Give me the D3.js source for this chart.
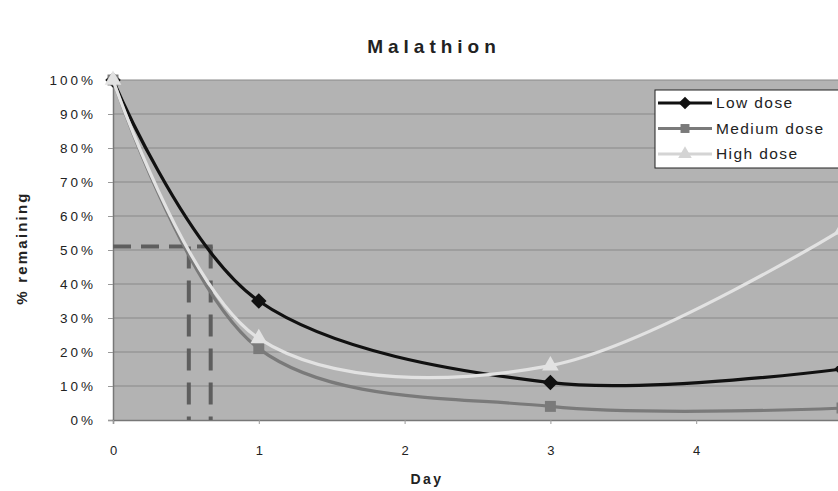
<!DOCTYPE html>
<html>
<head>
<meta charset="utf-8">
<script src="https://cdn.jsdelivr.net/npm/d3@7"></script>
<style>
  body { margin: 0; background: #fff; }
  svg text { font-family: "Liberation Sans", Arial, sans-serif; fill: #222; }
</style>
</head>
<body>
<svg width="838" height="491"></svg>
<script>
var days = [0, 1, 3, 5];
var lowDose = [100, 35, 11, 15];
var mediumDose = [100, 21, 4, 3.5];
var highDose = [100, 24, 16, 56];
var seriesNames = ['Low dose', 'Medium dose', 'High dose'];
var yTicks = [0, 10, 20, 30, 40, 50, 60, 70, 80, 90, 100];
var xTicks = [0, 1, 2, 3, 4, 5];
var halfLevel = 51;
var halfDays = [0.52, 0.67];

var svg = d3.select('svg');
var plotLeft = 113, plotTop = 80, plotBottom = 420, plotRight = 842;

var x = d3.scaleLinear().domain([0, 5]).range([plotLeft, plotRight]);
var y = d3.scaleLinear().domain([0, 100]).range([plotBottom, plotTop]);

// plot area
svg.append('rect')
  .attr('x', plotLeft).attr('y', plotTop)
  .attr('width', plotRight - plotLeft).attr('height', plotBottom - plotTop)
  .attr('fill', '#b3b3b3');

svg.append('g')
  .selectAll('line')
  .data(yTicks.slice(1))
  .enter()
  .append('line')
  .attr('x1', plotLeft).attr('x2', plotRight)
  .attr('y1', function(d) { return y(d); })
  .attr('y2', function(d) { return y(d); })
  .attr('stroke', '#8a8a8a')
  .attr('stroke-width', 1.2);

var yAxis = svg.append('g')
  .attr('transform', 'translate(' + plotLeft + ',0)')
  .call(d3.axisLeft(y).tickValues(yTicks).tickSize(5).tickPadding(12)
    .tickFormat(function(d) { return d + '%'; }));
yAxis.select('.domain').attr('stroke', '#777').attr('stroke-width', 1.5);
yAxis.selectAll('.tick line').attr('stroke', '#999');
yAxis.selectAll('text').style('font-size', '13.5px').style('letter-spacing', '3px').attr('fill', '#444');

var xAxis = svg.append('g')
  .attr('transform', 'translate(0,' + plotBottom + ')')
  .call(d3.axisBottom(x).tickValues(xTicks).tickSize(4).tickPadding(22)
    .tickFormat(d3.format('d')));
xAxis.select('.domain').attr('stroke', '#777').attr('stroke-width', 1.5);
xAxis.selectAll('.tick line').attr('stroke', '#999');
xAxis.selectAll('text').style('font-size', '13px').attr('fill', '#444');

// half-life guides
svg.append('line')
  .attr('x1', x(0)).attr('x2', x(halfDays[1]) + 2)
  .attr('y1', y(halfLevel)).attr('y2', y(halfLevel))
  .attr('stroke', '#5e5e5e').attr('stroke-width', 4)
  .attr('stroke-dasharray', '18,10');
svg.append('g')
  .selectAll('line')
  .data(halfDays)
  .enter()
  .append('line')
  .attr('x1', function(d) { return x(d); })
  .attr('x2', function(d) { return x(d); })
  .attr('y1', y(halfLevel)).attr('y2', y(0))
  .attr('stroke', '#5e5e5e').attr('stroke-width', 4)
  .attr('stroke-dasharray', '22,12');

var diamond = { draw: function(ctx, size) {
  var r = Math.sqrt(size / 2);
  ctx.moveTo(0, -r); ctx.lineTo(r, 0); ctx.lineTo(0, r); ctx.lineTo(-r, 0); ctx.closePath();
} };

var series = [
  { name: seriesNames[0], values: lowDose, color: '#111', marker: diamond, legendColor: '#111' },
  { name: seriesNames[1], values: mediumDose, color: '#7a7a7a', marker: d3.symbolSquare, legendColor: '#7a7a7a' },
  { name: seriesNames[2], values: highDose, color: '#e2e2e2', marker: d3.symbolTriangle, legendColor: '#d4d4d4' }
];

var line = d3.line()
  .x(function(d, i) { return x(days[i]); })
  .y(function(d) { return y(d); })
  .curve(d3.curveCardinal.tension(0));

var plot = svg.append('g');
series.forEach(function(s) {
  plot.append('path')
    .attr('d', line(s.values))
    .attr('fill', 'none')
    .attr('stroke', s.color)
    .attr('stroke-width', 3.2);
  plot.selectAll(null)
    .data(s.values)
    .enter()
    .append('path')
    .attr('transform', function(d, i) { return 'translate(' + x(days[i]) + ',' + y(d) + ')'; })
    .attr('d', d3.symbol().type(s.marker).size(120))
    .attr('fill', s.color);
});

// legend
var legend = svg.append('g');
legend.append('rect')
  .attr('x', 655).attr('y', 90).attr('width', 200).attr('height', 78)
  .attr('fill', '#fff').attr('stroke', '#222').attr('stroke-width', 1);
var rows = legend.selectAll('.row')
  .data(series)
  .enter()
  .append('g')
  .attr('transform', function(d, i) { return 'translate(0,' + (103 + i * 25.5) + ')'; });
rows.append('line')
  .attr('x1', 658).attr('x2', 712)
  .attr('stroke', function(d) { return d.legendColor; })
  .attr('stroke-width', 3);
rows.append('path')
  .attr('transform', 'translate(685,0)')
  .attr('d', function(d) { return d3.symbol().type(d.marker).size(80)(); })
  .attr('fill', function(d) { return d.legendColor; });
rows.append('text')
  .attr('x', 716).attr('dy', '0.35em')
  .style('font-size', '15.5px').style('letter-spacing', '1.4px')
  .text(function(d) { return d.name; });

// titles
svg.append('text')
  .attr('x', 434).attr('y', 53)
  .attr('text-anchor', 'middle')
  .style('font-size', '19px').style('font-weight', 'bold').style('letter-spacing', '5px')
  .text('Malathion');
svg.append('text')
  .attr('x', 427).attr('y', 484)
  .attr('text-anchor', 'middle')
  .style('font-size', '14px').style('font-weight', 'bold').style('letter-spacing', '2.5px')
  .text('Day');
svg.append('text')
  .attr('transform', 'translate(27,248) rotate(-90)')
  .attr('text-anchor', 'middle')
  .style('font-size', '15px').style('font-weight', 'bold').style('letter-spacing', '2.2px')
  .text('% remaining');
</script>
</body>
</html>
